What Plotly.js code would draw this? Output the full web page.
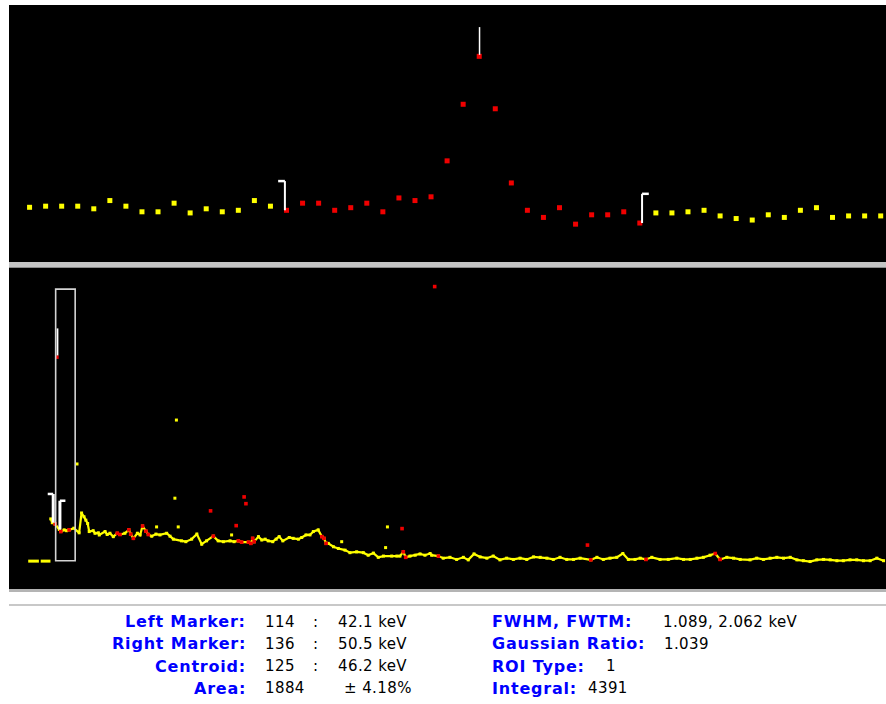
<!DOCTYPE html>
<html><head><meta charset="utf-8">
<script src="https://cdn.plot.ly/plotly-3.0.1.min.js"></script>
<style>
html,body{margin:0;padding:0;background:#fff;}
#chart{width:886px;height:704px;}
text.annotation-text{letter-spacing:0.4px;}
text.annotation-text[style*="bold"],text.annotation-text[style*="700"]{letter-spacing:0.8px;}
</style></head><body><div id="chart"></div>
<script>
// ---- zoomed spectrum (top panel) ----
const zoomChannels = [98,99,100,101,102,103,104,105,106,107,108,109,110,111,112,113,114,115,116,117,118,119,120,121,122,123,124,125,126,127,128,129,130,131,132,133,134,135,136,137,138,139,140,141,142,143,144,145,146,147,148,149,150,151];
const zoomCounts = [146,149,149,149,142,164,149,134,134,157,131,142,134,138,164,149,138,157,157,138,145,157,134,171,164,174,270,421,549,409,211,138,119,145,101,126,126,134,104,131,131,134,138,123,116,112,126,119,138,145,119,123,123,123];
const roiLeft = 114, roiRight = 136;

// ---- overview spectrum (bottom panel) ----
const overviewChannels = [106,111,120,134,139,150,158,166,182,199,207,215,221,227,232,245,251,262,265,284,291,300,311,324,333,349,362,368,377,390,399,407,418,426,437,451,464,486,497,508,535,549,568,585,601,617,639,655,672,694,707,721,732,754,762,768,773,787,798,809,819,834,845,855,867,888,901,918,929,943,956,967,983,995,1002,1009,1016,1033,1049,1071,1087,1109,1131,1147,1164,1180,1197,1224,1241,1251,1262,1270,1284,1301,1317,1333,1350,1355,1377,1393,1415,1437,1459,1475,1494,1514,1536,1557,1579,1601,1623,1645,1667,1689,1711,1733,1754,1776,1798,1820,1842,1877,1897,1918,1940,1962,1982,2000,2022,2039,2057,2077,2104,2131,2159,2181,2203,2225,2246,2268,2285,2301,2323,2345,2367,2399,2421,2443,2465,2487,2509,2531,2553,2574,2596,2618,2640,2662,2684,2705,2727,2749,2771,2793,2815,2837];
const overviewCounts = [166,157,154,141,136,140,138,140,144,133,180,171,163,155,136,138,132,133,128,136,129,132,124,132,129,132,140,130,120,132,128,149,137,129,125,130,128,132,125,118,114,112,118,130,106,114,125,114,112,114,112,114,111,111,108,120,112,124,116,118,114,112,118,124,114,122,120,118,122,128,128,136,140,124,120,108,108,100,96,92,86,88,86,80,85,75,78,78,78,78,88,75,78,80,83,80,84,80,78,73,75,70,75,69,83,76,73,78,69,73,70,73,70,76,75,73,70,75,70,70,73,69,75,70,73,75,84,70,70,73,70,75,70,70,73,70,70,73,75,80,84,70,75,73,70,69,73,70,73,75,73,75,69,67,65,69,70,69,67,67,69,69,67,67,73,67];
const spikeChannels = [192,453,513,518,524,699,1060,1204,1210];
const spikeCounts = [296,147,215,400,147,128,112,98,147];
const roiPointChannels = [120,126,139,166,324,333,362,368,377,407,418,426,630,639,714,721,732,740,746,754,762,768,773,995,1002,1009,1258,1262,1270,1365,1377,1866,1877,2058,2285,2301];
const roiPointCounts = [154,549,136,140,132,129,140,130,120,149,137,129,185,125,150,114,111,218,202,111,108,120,112,124,120,108,143,88,75,716,78,104,69,70,84,70];
const lldChannels = [32,67,null,73,105];
const lldCounts = [66,66,null,66,66];
const overviewWindowChannels = [122,186];
const overviewWindowCounts = [67,710];

// ---- readout text ----
const labelsLeft = ["Left Marker:","Right Marker:","Centroid:","Area:"];
const valuesLeft = ["114","136","125","1884"];
const separators = [":",":",":",""];
const energies = ["42.1 keV","50.5 keV","46.2 keV","± 4.18%"];
const labelsRight = ["FWHM, FWTM:","Gaussian Ratio:","ROI Type:","Integral:"];
const valuesRight = ["1.089, 2.062 keV","1.039","1","4391"];

const W = 886, H = 704;
const px = x => x / W;
const py = y => 1 - y / H;
const YEL = '#ffff00', RED = '#f00000';

const inRoi = c => c >= roiLeft && c <= roiRight;
const outCh = [], outCt = [], inCh = [], inCt = [];
zoomChannels.forEach((c, i) => {
  if (inRoi(c)) { inCh.push(c); inCt.push(zoomCounts[i]); }
  else { outCh.push(c); outCt.push(zoomCounts[i]); }
});
const cntAt = c => zoomCounts[zoomChannels.indexOf(c)];
let peakIdx = 0;
zoomCounts.forEach((v, i) => { if (v > zoomCounts[peakIdx]) peakIdx = i; });
const peakCh = zoomChannels[peakIdx], peakCt = zoomCounts[peakIdx];
const nearestOverview = c => {
  let b = 0;
  overviewChannels.forEach((v, i) => { if (Math.abs(v - c) < Math.abs(overviewChannels[b] - c)) b = i; });
  return overviewCounts[b];
};

const traces = [
  {x: outCh, y: outCt, xaxis: 'x', yaxis: 'y', mode: 'markers', type: 'scatter',
   marker: {symbol: 'square', size: 5, color: YEL}, hoverinfo: 'skip'},
  {x: inCh, y: inCt, xaxis: 'x', yaxis: 'y', mode: 'markers', type: 'scatter',
   marker: {symbol: 'square', size: 5, color: RED}, hoverinfo: 'skip'},
  {x: lldChannels, y: lldCounts, xaxis: 'x2', yaxis: 'y2', mode: 'lines', type: 'scatter',
   line: {color: YEL, width: 3}, connectgaps: false, hoverinfo: 'skip'},
  {x: overviewChannels, y: overviewCounts, xaxis: 'x2', yaxis: 'y2', mode: 'lines+markers', type: 'scatter',
   line: {color: YEL, width: 2.2}, marker: {symbol: 'square', size: 3, color: YEL}, hoverinfo: 'skip'},
  {x: spikeChannels, y: spikeCounts, xaxis: 'x2', yaxis: 'y2', mode: 'markers', type: 'scatter',
   marker: {symbol: 'square', size: 3, color: YEL}, hoverinfo: 'skip'},
  {x: roiPointChannels, y: roiPointCounts, xaxis: 'x2', yaxis: 'y2', mode: 'markers', type: 'scatter',
   marker: {symbol: 'square', size: 3.6, color: RED}, hoverinfo: 'skip'}
];

const WHITE = '#ffffff';
const shapes = [];
const rectP = (x0, y0, x1, y1, fill) => shapes.push({type: 'rect', xref: 'paper', yref: 'paper',
  x0: px(x0), x1: px(x1), y0: py(y1), y1: py(y0), fillcolor: fill, line: {width: 0}, layer: 'below'});
rectP(9, 5, 886, 262, '#000000');
rectP(9, 268, 886, 589, '#000000');
rectP(9, 262, 886, 268, '#c4c4c4');
rectP(9, 267, 886, 268, '#8a8a8a');
rectP(9, 589, 886, 592, '#b4b4b4');
rectP(9, 604, 886, 606, '#c8c8c8');
const seg = (xr, yr, x0, y0, x1, y1, w, c) => shapes.push({type: 'line', xref: xr, yref: yr,
  x0, y0, x1, y1, line: {color: c || WHITE, width: w}, layer: 'above'});
// top panel markers
const tH = 78, tTick = 0.42;
const lx = roiLeft - 0.1, rx = roiRight + 0.14;
seg('x', 'y', lx, cntAt(roiLeft), lx, cntAt(roiLeft) + tH, 2);
seg('x', 'y', lx - tTick, cntAt(roiLeft) + tH, lx, cntAt(roiLeft) + tH, 2.5);
seg('x', 'y', rx, cntAt(roiRight), rx, cntAt(roiRight) + tH, 2);
seg('x', 'y', rx, cntAt(roiRight) + tH, rx + tTick, cntAt(roiRight) + tH, 2.5);
seg('x', 'y', peakCh + 0.02, peakCt + 4, peakCh + 0.02, peakCt + 78, 1.5);
// bottom panel markers
const bH = 68, bTick = 18;
const bl = nearestOverview(roiLeft), br = nearestOverview(roiRight);
seg('x2', 'y2', roiLeft, bl, roiLeft, bl + bH, 3);
seg('x2', 'y2', roiLeft - bTick, bl + bH, roiLeft, bl + bH, 2.5);
seg('x2', 'y2', roiRight, br, roiRight, br + bH, 3);
seg('x2', 'y2', roiRight, br + bH, roiRight + bTick, br + bH, 2.5);
seg('x2', 'y2', peakCh + 2, peakCt + 4, peakCh + 2, peakCt + 68, 1.8);
shapes.push({type: 'rect', xref: 'x2', yref: 'y2', x0: overviewWindowChannels[0], x1: overviewWindowChannels[1],
  y0: overviewWindowCounts[0], y1: overviewWindowCounts[1], line: {color: '#d4d4d4', width: 1.6}, layer: 'above'});

const rowsY = [621.5, 643.5, 666, 688];
const lab = {family: 'DejaVu Sans', size: 16, color: '#0000ff', weight: 'bold'};
const val = {family: 'DejaVu Sans', size: 15, color: '#000000'};
const ann = [];
const addA = (text, x, y, anchor, font) => ann.push({text, xref: 'paper', yref: 'paper', x: px(x), y: py(y),
  xanchor: anchor, yanchor: 'middle', showarrow: false, font, align: anchor});
labelsLeft.forEach((t, i) => addA(t, 248, rowsY[i], 'right', lab));
valuesLeft.forEach((t, i) => addA(t, 263, rowsY[i], 'left', val));
separators.forEach((t, i) => { if (t) addA(t, 311, rowsY[i], 'left', val); });
energies.forEach((t, i) => addA(t, i === 3 ? 342 : 336, rowsY[i], 'left', val));
labelsRight.forEach((t, i) => addA(t, 490, rowsY[i], 'left', lab));
const vrX = [661, 662, 604, 586];
valuesRight.forEach((t, i) => addA(t, vrX[i], rowsY[i], 'left', val));

const ax = {visible: false, showgrid: false, zeroline: false, fixedrange: true};
const layout = {
  width: W, height: H, margin: {l: 0, r: 0, t: 0, b: 0}, autosize: false,
  paper_bgcolor: '#ffffff', plot_bgcolor: '#000000', showlegend: false,
  xaxis: Object.assign({domain: [px(9), 1], range: [96.72, 151.33], anchor: 'y'}, ax),
  yaxis: Object.assign({domain: [py(262), py(5)], range: [0, 686], anchor: 'x'}, ax),
  xaxis2: Object.assign({domain: [px(9), 1], range: [-31, 2845], anchor: 'y2'}, ax),
  yaxis2: Object.assign({domain: [py(589), py(268)], range: [0, 760], anchor: 'x2'}, ax),
  shapes, annotations: ann
};
Plotly.newPlot('chart', traces, layout, {staticPlot: true, displayModeBar: false});
</script></body></html>
